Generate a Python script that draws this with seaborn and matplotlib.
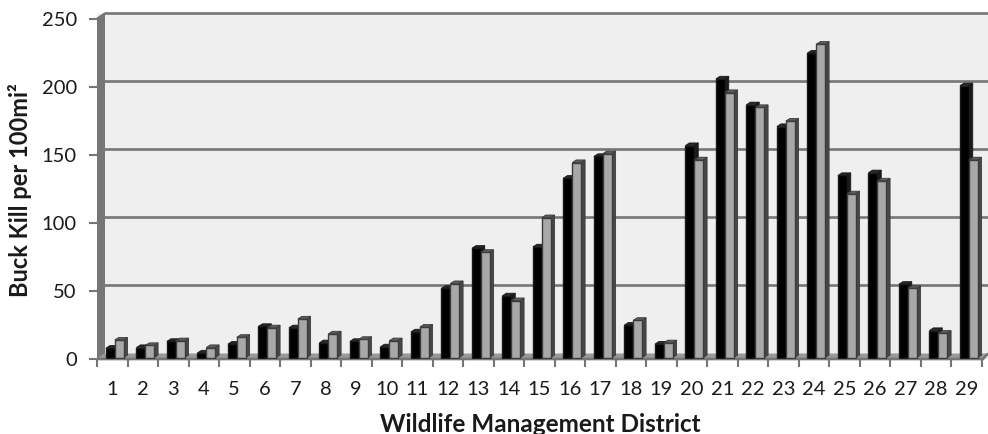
import matplotlib
matplotlib.use("Agg")
import matplotlib.pyplot as plt
import seaborn as sns
import pandas as pd
from matplotlib.patches import Polygon
from matplotlib.transforms import Affine2D

districts = [str(i) for i in range(1, 30)]
series_a = [7, 7.5, 12, 3.5, 10, 23, 22, 11, 12, 8, 19, 51, 80.5, 45.5, 81.5, 132, 148,
            24, 10, 156, 205, 186, 170, 224, 134, 136, 54, 20, 200]
series_b = [13, 9, 12.5, 7.5, 15, 22, 28.5, 17.5, 13.5, 12.5, 22.5, 54.5, 77.5, 42, 103,
            143.5, 150, 27.5, 11, 145.5, 195, 184, 174, 230.5, 120.5, 130, 51, 18, 145.5]
y_ticks = [0, 50, 100, 150, 200, 250]

sns.set_theme(style="white")
plt.rcParams["font.family"] = ["Lato", "DejaVu Sans"]

W, H = 988, 434
fig = plt.figure(figsize=(W / 100, H / 100), dpi=100)
L, R, B, T = 97, 988, 359, 14
ax = fig.add_axes([L / W, 1 - B / H, (R - L) / W, (B - T) / H])

PX_PER_CAT, PX_PER_UNIT = 30.5, 1.36
ux, uy = 1 / PX_PER_CAT, 1 / PX_PER_UNIT

df = pd.DataFrame({
    "District": districts * 2,
    "Kill": series_a + series_b,
    "Series": ["a"] * 29 + ["b"] * 29,
})
sns.barplot(data=df, x="District", y="Kill", hue="Series", order=districts,
            palette={"a": "#000000", "b": "#a6a6a6"}, width=0.58, gap=0,
            saturation=1, legend=False, ax=ax, err_kws={"linewidth": 0})

x0 = -0.5
x1 = x0 + (R - L) / PX_PER_CAT
y1 = (B - T) / PX_PER_UNIT
ax.set_xlim(x0, x1)
ax.set_ylim(0, y1)
ax.set_facecolor("#efefef")
for s in ax.spines.values():
    s.set_visible(False)

# back wall gridlines, pushed back by the depth of the 3-D floor
GRID = "#767676"
dw_x, dw_y = 8 * ux, 5.5 * uy
for v in y_ticks[1:]:
    ax.plot([x0, x0 + dw_x, x1], [v, v + dw_y, v + dw_y], color=GRID, lw=1.9,
            zorder=1, clip_on=False, solid_capstyle="butt")
# left wall and floor
ax.add_patch(Polygon([(x0, 0), (x0, 250), (x0 + dw_x, 250 + dw_y), (x0 + dw_x, dw_y)],
                     closed=True, fc="#767676", ec="none", zorder=1.5, clip_on=False))
front_end = x0 + 29
ax.add_patch(Polygon([(x0, 0), (x0 + dw_x, dw_y), (x1, dw_y), (front_end + 0.05, 0)],
                     closed=True, fc="#999999", ec="none", zorder=1.5))
ax.plot([x0, front_end + 0.05, x1], [0, 0, dw_y], color=GRID, lw=1.9, zorder=1.6,
        clip_on=False, solid_capstyle="butt")

# 3-D bars derived from what seaborn drew
shift = ax.transData + Affine2D().translate(2.5, 1.3)
dx, dy = 4 * ux, 2.6 * uy
styles = [("#000000", "#1a1a1a", "#262626", "#1a1a1a"),
          ("#a8a8a8", "#474747", "#5c5c5c", "#3c3c3c")]
for k, cont in enumerate(ax.containers):
    face, side, top, edge = styles[k]
    z = 3 + k
    for p in cont:
        a, w, h = p.get_x(), p.get_width(), p.get_height()
        ax.add_patch(Polygon([(a + w, 0), (a + w + dx, dy), (a + w + dx, h + dy), (a + w, h)],
                             closed=True, fc=side, ec=edge, lw=0.6, zorder=z, transform=shift))
        ax.add_patch(Polygon([(a, h), (a + dx, h + dy), (a + w + dx, h + dy), (a + w, h)],
                             closed=True, fc=top, ec=edge, lw=0.6, zorder=z, transform=shift))
        p.set_transform(shift)
        p.set_facecolor(face)
        p.set_edgecolor(edge)
        p.set_linewidth(1.0)
        p.set_zorder(z + 0.1)

TEXT = "#1a1a1a"
# ticks
ax.set_yticks(y_ticks)
ax.set_xticks([i - 0.5 for i in range(30)], labels=[""] * 30)
ax.set_xticks(range(29), labels=districts, minor=True)
ax.tick_params(axis="both", which="major", length=5.5, width=1.5, color=GRID, left=True, bottom=True)
ax.tick_params(axis="x", which="minor", length=0, pad=16, labelsize=14.5, labelcolor=TEXT)
ax.tick_params(axis="y", which="major", pad=9, labelsize=14.5, labelcolor=TEXT)

ax.set_xlabel("Wildlife Management District", fontsize=17.5, fontweight="bold", color=TEXT)
ax.set_ylabel("Buck Kill per 100mi²", fontsize=17, fontweight="bold", color=TEXT)
ax.xaxis.set_label_coords((540 - L) / (R - L), (B - 425) / (B - T), transform=ax.transAxes)
ax.xaxis.label.set_verticalalignment("center")
ax.yaxis.set_label_coords((20 - L) / (R - L), (B - 190) / (B - T), transform=ax.transAxes)
ax.yaxis.label.set_verticalalignment("center")

fig.savefig("out.png", dpi=100, facecolor="white")
